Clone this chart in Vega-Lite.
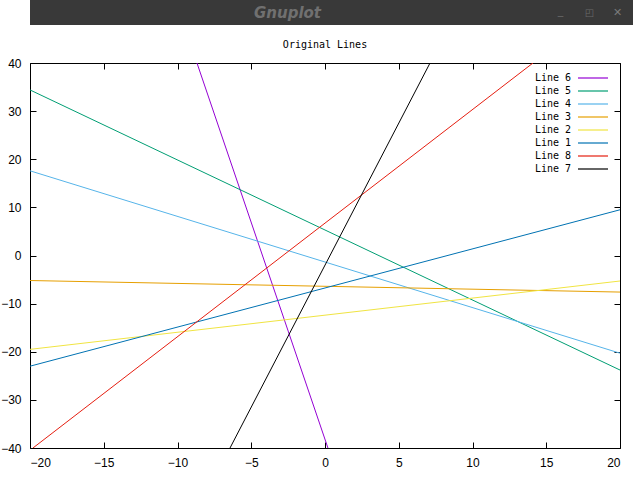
{
  "$schema": "https://vega.github.io/schema/vega-lite/v6.json",
  "padding": 0,
  "spacing": 14,
  "columns": 1,
  "background": "white",
  "resolve": {"legend": {"color": "independent"}},
  "config": {
    "view": {"stroke": null},
    "axis": {
      "grid": false,
      "domain": false,
      "labelFont": "Liberation Sans",
      "labelFontSize": 12,
      "labelColor": "black",
      "tickColor": "black",
      "tickSize": 6,
      "offset": -6,
      "labelPadding": 9,
      "title": null
    },
    "legend": {
      "orient": "top-right",
      "offset": 9,
      "padding": 0,
      "title": null,
      "symbolType": "M-3,0H3",
      "symbolSize": 100,
      "symbolStrokeWidth": 1.2,
      "labelFont": "DejaVu Sans Mono",
      "labelFontSize": 10,
      "labelColor": "black",
      "labelAlign": "right",
      "labelOffset": -28,
      "rowPadding": 2
    }
  },
  "concat": [
    {
      "width": 603,
      "height": 25,
      "view": {"fill": "#393939", "stroke": null},
      "data": {"values": [{"t": "Gnuplot", "b1": "_", "b2": "◰", "b3": "✕"}]},
      "layer": [
        {
          "mark": {"type": "text", "font": "DejaVu Sans", "fontSize": 15, "fontStyle": "italic", "fontWeight": "bold", "color": "#707070", "dx": -44, "baseline": "middle"},
          "encoding": {"text": {"field": "t", "type": "nominal"}}
        },
        {
          "mark": {"type": "text", "font": "DejaVu Sans", "fontSize": 11, "color": "#6a6a6a", "dx": 229, "dy": -2, "baseline": "middle"},
          "encoding": {"text": {"field": "b1", "type": "nominal"}}
        },
        {
          "mark": {"type": "text", "font": "DejaVu Sans", "fontSize": 10, "color": "#6a6a6a", "dx": 258, "baseline": "middle"},
          "encoding": {"text": {"field": "b2", "type": "nominal"}}
        },
        {
          "mark": {"type": "text", "font": "DejaVu Sans", "fontSize": 11, "color": "#7a7a7a", "dx": 286, "baseline": "middle"},
          "encoding": {"text": {"field": "b3", "type": "nominal"}}
        }
      ]
    },
    {
      "width": 590,
      "height": 385,
      "view": {"stroke": "black", "strokeWidth": 1},
      "title": {"text": "Original Lines", "font": "DejaVu Sans Mono", "fontSize": 10, "fontWeight": "normal", "color": "black", "anchor": "middle", "frame": "group", "offset": 7},
      "data": {"values": [
        {"line": "Line 6", "x": -8.68, "y": 40}, {"line": "Line 6", "x": 0.2, "y": -40},
        {"line": "Line 5", "x": -20, "y": 34.4}, {"line": "Line 5", "x": 20, "y": -23.8},
        {"line": "Line 4", "x": -20, "y": 17.6}, {"line": "Line 4", "x": 20, "y": -20.3},
        {"line": "Line 3", "x": -20, "y": -5.2}, {"line": "Line 3", "x": 20, "y": -7.6},
        {"line": "Line 2", "x": -20, "y": -19.5}, {"line": "Line 2", "x": 20, "y": -5.3},
        {"line": "Line 1", "x": -20, "y": -23.0}, {"line": "Line 1", "x": 20, "y": 9.5},
        {"line": "Line 8", "x": -19.8, "y": -40}, {"line": "Line 8", "x": 14.1, "y": 40},
        {"line": "Line 7", "x": -6.44, "y": -40}, {"line": "Line 7", "x": 7.12, "y": 40}
      ]},
      "layer": [
        {
          "mark": {"type": "line", "clip": true, "strokeWidth": 1},
          "encoding": {
            "x": {"field": "x", "type": "quantitative", "scale": {"domain": [-20, 20], "nice": false, "zero": false},
                  "axis": {"orient": "bottom", "values": [-20, -15, -10, -5, 0, 5, 10, 15, 20]}},
            "y": {"field": "y", "type": "quantitative", "scale": {"domain": [-40, 40], "nice": false, "zero": false},
                  "axis": {"orient": "left", "values": [-40, -30, -20, -10, 0, 10, 20, 30, 40], "minExtent": 27, "maxExtent": 27}},
            "color": {"field": "line", "type": "nominal",
                      "scale": {"domain": ["Line 6", "Line 5", "Line 4", "Line 3", "Line 2", "Line 1", "Line 8", "Line 7"],
                                "range": ["#9400d3", "#009e73", "#56b4e9", "#e69f00", "#f0e442", "#0072b2", "#e51e10", "#000000"]}}
          }
        },
        {
          "mark": {"type": "line", "clip": true, "opacity": 0},
          "encoding": {
            "x": {"field": "x", "type": "quantitative", "axis": {"orient": "top", "labels": false, "values": [-20, -15, -10, -5, 0, 5, 10, 15, 20], "minExtent": 0, "maxExtent": 0}},
            "y": {"field": "y", "type": "quantitative", "axis": {"orient": "right", "labels": false, "values": [-40, -30, -20, -10, 0, 10, 20, 30, 40], "minExtent": 0, "maxExtent": 0}},
            "detail": {"field": "line", "type": "nominal"}
          }
        }
      ],
      "resolve": {"axis": {"x": "independent", "y": "independent"}}
    }
  ]
}
